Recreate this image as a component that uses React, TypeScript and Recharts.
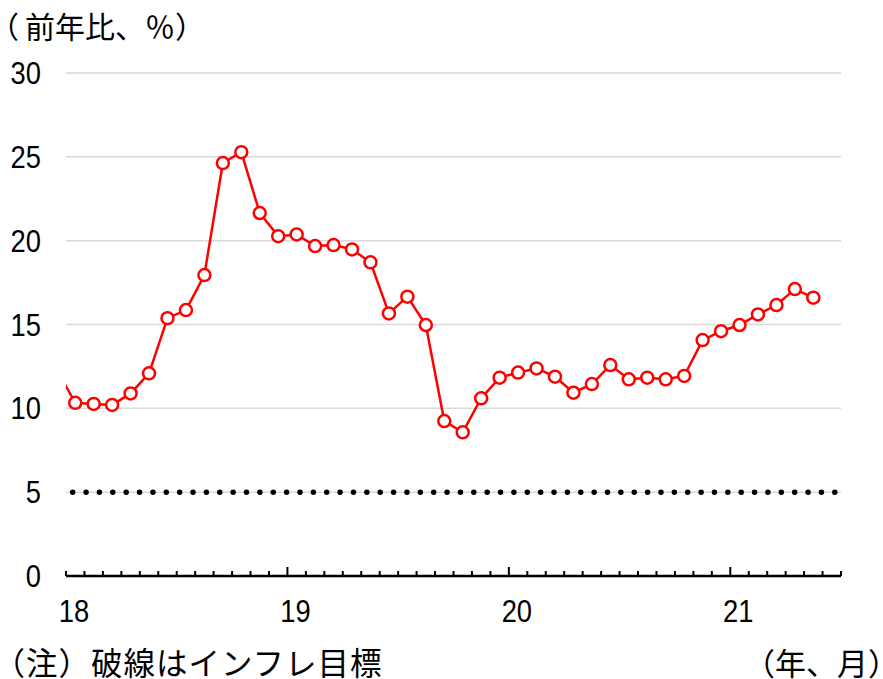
import { LineChart, Line, XAxis, YAxis, CartesianGrid, ReferenceLine } from "recharts";

// 月次データ（17年12月〜21年5月）
const months = [
  "17/12",
  "18/1", "18/2", "18/3", "18/4", "18/5", "18/6", "18/7", "18/8", "18/9", "18/10", "18/11", "18/12",
  "19/1", "19/2", "19/3", "19/4", "19/5", "19/6", "19/7", "19/8", "19/9", "19/10", "19/11", "19/12",
  "20/1", "20/2", "20/3", "20/4", "20/5", "20/6", "20/7", "20/8", "20/9", "20/10", "20/11", "20/12",
  "21/1", "21/2", "21/3", "21/4", "21/5",
];
const inflation = [
  12.3,
  10.33, 10.26, 10.2, 10.89, 12.09, 15.38, 15.86, 17.95, 24.63, 25.28, 21.65, 20.27,
  20.37, 19.68, 19.74, 19.48, 18.71, 15.66, 16.66, 14.97, 9.24, 8.57, 10.6, 11.83,
  12.13, 12.38, 11.89, 10.93, 11.45, 12.58, 11.73, 11.83, 11.73, 11.93, 14.07, 14.6,
  14.97, 15.6, 16.16, 17.11, 16.6,
];
const target = 5;
const yTicks = [0, 5, 10, 15, 20, 25, 30];
const yearLabels = ["18", "19", "20", "21"];
const monthTicks = Array.from({ length: 43 }, (_, i) => i);

// 横軸は18年1月初を0とした月数、各点は月の中央に置く
const rows = months.map((m, i) => ({ m, t: i - 0.5, v: inflation[i] }));

const NUM_FONT = "'Liberation Sans', Arial, sans-serif";
const JP_FONT = "'Noto Sans CJK JP', sans-serif";
const DIGIT_W = 15.2;

function MonthTick(props: any) {
  const { x, y, payload } = props;
  const v = payload.value as number;
  const major = v % 12 === 0 && v > 0 && v < 42;
  const label = v % 12 === 0 ? yearLabels[v / 12] : null;
  return (
    <g>
      <line x1={x} x2={x} y1={y} y2={y - (major ? 9 : 5)} stroke="#000" strokeWidth={2} />
      {label && (
        <text
          x={x + 8}
          y={y + 46}
          textAnchor="middle"
          fontSize={31}
          fontFamily={NUM_FONT}
          fill="#000"
          textLength={label.length * DIGIT_W}
          lengthAdjust="spacingAndGlyphs"
        >
          {label}
        </text>
      )}
    </g>
  );
}

function ValueTick(props: any) {
  const { x, y, payload } = props;
  const label = String(payload.value);
  return (
    <text
      x={x}
      y={y}
      dy="0.358em"
      textAnchor="end"
      fontSize={31}
      fontFamily={NUM_FONT}
      fill="#000"
      textLength={label.length * DIGIT_W}
      lengthAdjust="spacingAndGlyphs"
    >
      {label}
    </text>
  );
}

// 先頭の全角括弧は詰めて組む
function OpenParen({ width }: { width: number }) {
  return (
    <span style={{ display: "inline-block", width, fontFeatureSettings: "'palt'" }}>（</span>
  );
}

export default function App() {
  return (
    <div
      style={{
        position: "absolute",
        left: 0,
        top: 0,
        width: 883,
        height: 679,
        background: "#fff",
        overflow: "hidden",
      }}
    >
      <LineChart
        width={883}
        height={679}
        data={rows}
        margin={{ top: 73, right: 42, bottom: 73, left: 0 }}
      >
        <CartesianGrid vertical={false} stroke="#d9d9d9" strokeWidth={1.5} />
        <XAxis
          dataKey="t"
          type="number"
          domain={[0, 42]}
          allowDataOverflow
          ticks={monthTicks}
          interval={0}
          height={30}
          tick={<MonthTick />}
          tickLine={false}
          tickSize={0}
          tickMargin={0}
          axisLine={{ stroke: "#000", strokeWidth: 2.5 }}
        />
        <YAxis
          type="number"
          domain={[0, 30]}
          ticks={yTicks}
          width={66}
          axisLine={false}
          tickLine={false}
          tickSize={0}
          tickMargin={25}
          tick={<ValueTick />}
        />
        <ReferenceLine
          y={target}
          stroke="#000"
          strokeWidth={5.5}
          strokeDasharray="0 13.37"
          strokeDashoffset={-6.7}
          strokeLinecap="round"
        />
        <Line
          dataKey="v"
          stroke="#ff0000"
          strokeWidth={2.5}
          dot={{ r: 6, fill: "#fff", stroke: "#ff0000", strokeWidth: 2.5 }}
          isAnimationActive={false}
        />
      </LineChart>
      <div
        style={{
          position: "absolute",
          left: 3,
          top: 10,
          fontFamily: JP_FONT,
          fontSize: 30,
          lineHeight: "30px",
          whiteSpace: "nowrap",
        }}
      >
        <OpenParen width={22} />前年比、％）
      </div>
      <div
        style={{
          position: "absolute",
          left: 8,
          top: 646,
          fontFamily: JP_FONT,
          fontSize: 31.5,
          lineHeight: "31px",
          letterSpacing: 1,
          whiteSpace: "nowrap",
        }}
      >
        <OpenParen width={18} />注）破線はインフレ目標
      </div>
      <div
        style={{
          position: "absolute",
          left: 744,
          top: 646,
          fontFamily: JP_FONT,
          fontSize: 31,
          lineHeight: "31px",
          whiteSpace: "nowrap",
        }}
      >
        （年、月）
      </div>
    </div>
  );
}
